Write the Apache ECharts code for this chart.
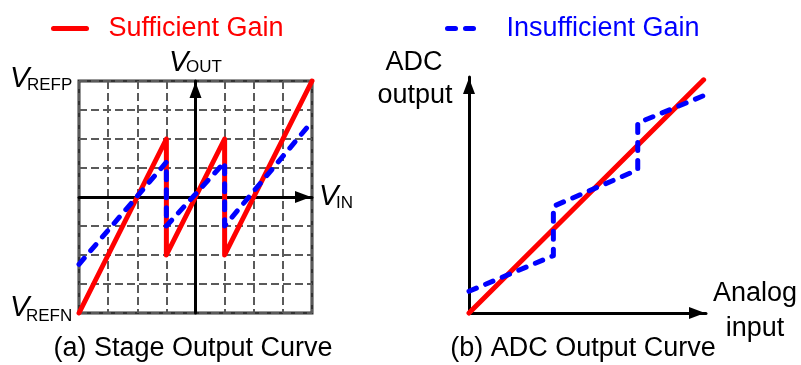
<!DOCTYPE html>
<html><head><meta charset="utf-8">
<script src="https://cdn.jsdelivr.net/npm/echarts@6/dist/echarts.min.js"></script>
<style>html,body{margin:0;padding:0;background:#fff}#c{width:801px;height:365px}</style>
</head><body><div id="c"></div>
<script>
// ---- data ----
const seriesNames = ['Sufficient Gain', 'Insufficient Gain'];
// (a) stage output curve, axis in grid cells
const stageSufficient = [[-4,-4],[-1,2],[-1,-2],[1,2],[1,-2],[4,4]];
const stageInsufficient = [[-4,-2.32],[-1,1.2],[-1,-1],[1,1.2],[1,-1],[4,2.6]];
const stageAxis = {min: -4, max: 4, interval: 1};
// (b) ADC output curve
const adcSufficient = [[0,0],[9.9,9.88]];
const adcInsufficient = [[0,0.92],[3.56,2.43],[3.56,4.52],[7.12,6.07],[7.12,8.05],[10.24,9.35]];
const adcAxis = {min: 0, max: 10};
const captions = ['(a) Stage Output Curve', '(b) ADC Output Curve'];
const adcYName = ['ADC', 'output'];
const adcXName = ['Analog', 'input'];
const vLabels = [['V','REFP'],['V','REFN'],['V','OUT'],['V','IN']];

const FONT = '"Liberation Sans", Arial, sans-serif';
const RED = '#ff0000', BLUE = '#0000ff';

const chart = echarts.init(document.getElementById('c'), null, {renderer: 'canvas'});

function arrowLine(){
  return {show: true, onZero: true, symbol: ['none','triangle'], symbolSize: [12,16], symbolOffset: [0,-9],
          lineStyle: {color: '#000', width: 3}};
}
function vText(pair, x, y, subDx, subDy){
  return [
    {type:'text', x: x, y: y, style:{text: pair[0], fontSize: 29, fontStyle:'italic', fontFamily: FONT, fill:'#000', align:'left', verticalAlign:'middle'}},
    {type:'text', x: x + subDx, y: y + subDy, style:{text: pair[1], fontSize: 17, fontFamily: FONT, fill:'#000', align:'left', verticalAlign:'middle'}}
  ];
}
function plainText(t, x, y, size){
  return {type:'text', x: x, y: y, style:{text: t, fontSize: size, fontFamily: FONT, fill:'#000', align:'center', verticalAlign:'middle'}};
}

const redStyle = {color: RED, width: 5, cap: 'round', join: 'round'};
const blueStyle = {color: BLUE, width: 5, type: [8,10], cap: 'round', join: 'round'};

const option = {
  animation: false,
  backgroundColor: '#fff',
  legend: [
    {data: [seriesNames[0]], left: 51, top: 15, padding: 0, itemWidth: 33, itemHeight: 2, selectedMode: false,
     itemStyle: {opacity: 0}, lineStyle: {width: 5, cap: 'round', type: 'solid'},
     textStyle: {color: RED, fontSize: 27, fontFamily: FONT, padding: [0,0,0,17]}},
    {data: [seriesNames[1]], left: 445, top: 15, padding: 0, itemWidth: 32, itemHeight: 2, selectedMode: false,
     itemStyle: {opacity: 0}, lineStyle: {width: 5, cap: 'round', type: [8,10]},
     textStyle: {color: BLUE, fontSize: 27, fontFamily: FONT, padding: [0,0,0,22]}}
  ],
  grid: [
    {left: 79, top: 81, width: 233, height: 232, show: true, borderColor: '#333', borderWidth: 3, backgroundColor: 'transparent'},
    {left: 469, top: 77, width: 237, height: 236, show: false}
  ],
  xAxis: [
    {gridIndex: 0, type: 'value', min: stageAxis.min, max: stageAxis.max, interval: stageAxis.interval,
     axisLine: arrowLine(), axisTick: {show: false}, axisLabel: {show: false},
     splitLine: {show: true, lineStyle: {color: '#5a5a5a', width: 2, type: [8,4]}}},
    {gridIndex: 1, type: 'value', min: adcAxis.min, max: adcAxis.max,
     axisLine: arrowLine(), axisTick: {show: false}, axisLabel: {show: false}, splitLine: {show: false}}
  ],
  yAxis: [
    {gridIndex: 0, type: 'value', min: stageAxis.min, max: stageAxis.max, interval: stageAxis.interval,
     axisLine: arrowLine(), axisTick: {show: false}, axisLabel: {show: false},
     splitLine: {show: true, lineStyle: {color: '#5a5a5a', width: 2, type: [8,4]}}},
    {gridIndex: 1, type: 'value', min: adcAxis.min, max: adcAxis.max,
     axisLine: arrowLine(), axisTick: {show: false}, axisLabel: {show: false}, splitLine: {show: false}}
  ],
  series: [
    {name: seriesNames[0], type: 'line', xAxisIndex: 0, yAxisIndex: 0, data: stageSufficient, symbol: 'none', clip: false, lineStyle: redStyle, z: 3},
    {name: seriesNames[1], type: 'line', xAxisIndex: 0, yAxisIndex: 0, data: stageInsufficient, symbol: 'none', clip: false, lineStyle: blueStyle, z: 4},
    {name: seriesNames[0], type: 'line', xAxisIndex: 1, yAxisIndex: 1, data: adcSufficient, symbol: 'none', clip: false, lineStyle: redStyle, z: 3},
    {name: seriesNames[1], type: 'line', xAxisIndex: 1, yAxisIndex: 1, data: adcInsufficient, symbol: 'none', clip: false, lineStyle: blueStyle, z: 4}
  ],
  graphic: [].concat(
    vText(vLabels[0], 10, 79, 17, 6),
    vText(vLabels[1], 10, 308, 16, 8),
    vText(vLabels[2], 169, 63, 17, 4),
    vText(vLabels[3], 319, 197, 17, 6),
    [
      plainText(adcYName[0], 414, 63, 27),
      plainText(adcYName[1], 415, 96, 27),
      plainText(adcXName[0], 755, 294, 27),
      plainText(adcXName[1], 755, 329, 27),
      plainText(captions[0], 193, 349, 27),
      plainText(captions[1], 583, 349, 27)
    ]
  )
};
chart.setOption(option);
</script></body></html>
